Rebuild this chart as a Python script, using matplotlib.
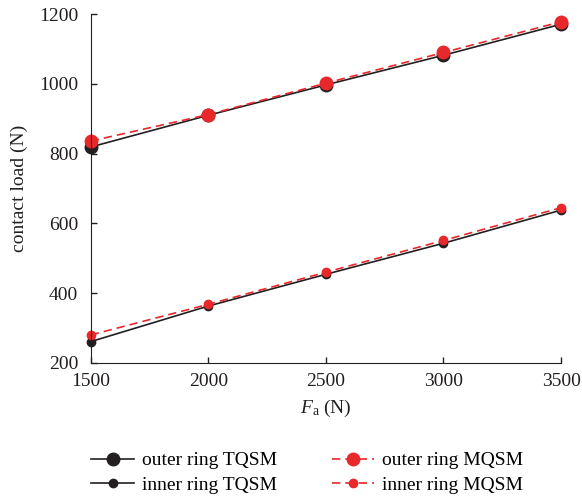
import matplotlib
matplotlib.use("Agg")
import matplotlib.pyplot as plt

plt.rcParams.update({
    "font.family": "Liberation Serif",
    "mathtext.fontset": "custom",
    "mathtext.rm": "Liberation Serif",
    "mathtext.it": "Liberation Serif:italic",
    "font.size": 14,
})

BLACK = "#231f20"
RED = "#e8282b"

fa = [1500, 2000, 2500, 3000, 3500]
outer_tqsm = [819, 910, 997, 1082, 1171]
outer_mqsm = [836, 912, 1002, 1090, 1178]
inner_tqsm = [261, 363, 454, 543, 638]
inner_mqsm = [280, 368, 460, 551, 645]

fig = plt.figure(figsize=(5.82, 5.04), dpi=100)
ax = fig.add_axes([0.156, 0.280, 0.808, 0.692])

h1, = ax.plot(fa, outer_tqsm, "-o", color=BLACK, lw=1.2, ms=9, label="outer ring TQSM")
h2, = ax.plot(fa, inner_tqsm, "-o", color=BLACK, lw=1.2, ms=6, label="inner ring TQSM")
h3, = ax.plot(fa, outer_mqsm, "--o", color=RED, lw=1.2, ms=9, dashes=(5, 3), label="outer ring MQSM")
h4, = ax.plot(fa, inner_mqsm, "--o", color=RED, lw=1.2, ms=6, dashes=(5, 3), label="inner ring MQSM")

ax.set_xlim(1500, 3500)
ax.set_ylim(200, 1200)
ax.set_xticks([1500, 2000, 2500, 3000, 3500])
ax.set_yticks([200, 400, 600, 800, 1000, 1200])
ax.tick_params(direction="in", length=4, width=1, colors=BLACK, labelsize=14)
ax.tick_params(axis="x", pad=7)
ax.tick_params(axis="y", pad=9)
for s in ["top", "right"]:
    ax.spines[s].set_visible(False)
for s in ["left", "bottom"]:
    ax.spines[s].set_color(BLACK)
for line in ax.lines:
    line.set_clip_on(False)

ax.set_xlabel(r"$F_\mathrm{a}$ (N)", fontsize=14, color=BLACK, labelpad=6)
ax.set_ylabel("contact load (N)", fontsize=14, color=BLACK, labelpad=8)

fig.legend(handles=[h1, h2, h3, h4], loc="center", ncol=2, frameon=False,
           bbox_to_anchor=(0.528, 0.062), fontsize=14, handlelength=2.2,
           columnspacing=2.8, labelspacing=0.35, handletextpad=0.4)

fig.savefig("out.png", dpi=100)
